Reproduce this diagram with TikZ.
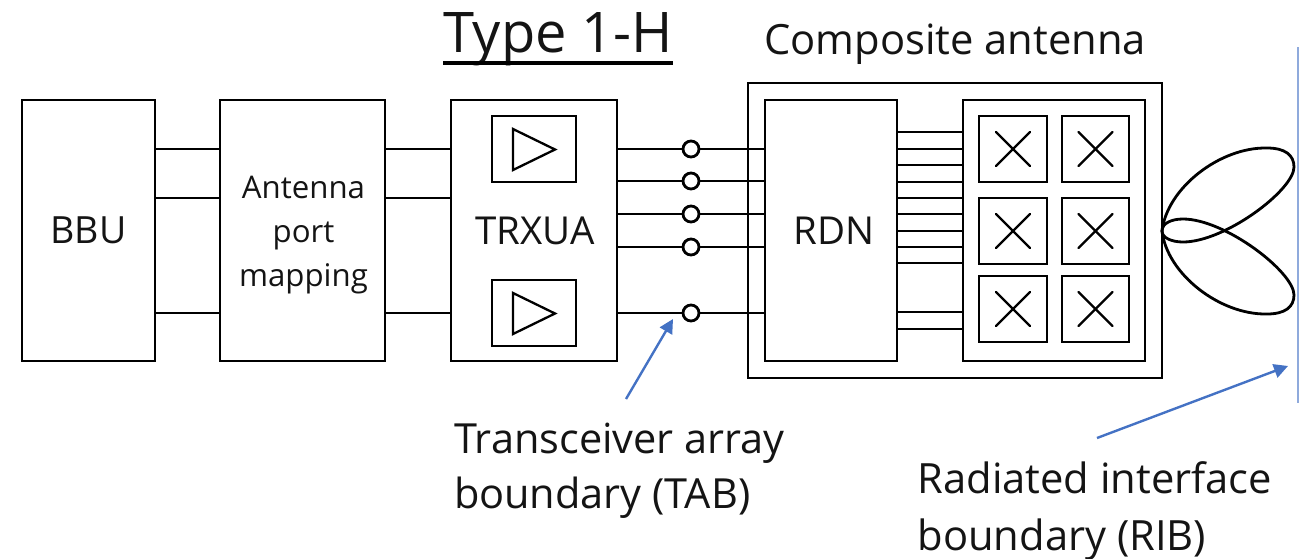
\documentclass[tikz,border=0pt]{standalone}
\usepackage{fontspec}
\setmainfont{Open Sans}
\usetikzlibrary{arrows.meta}
\tikzset{
  x=1pt,y=-1pt,
  box/.style={draw=black,line width=2.8pt,fill=white,minimum width=#1,inner sep=0pt,outer sep=0pt},
  wire/.style={draw=black,line width=2.8pt},
  port/.style={circle,draw=black,line width=2.8pt,fill=white,minimum size=16pt,inner sep=0pt},
  cross/.style={draw=black,line width=2.4pt,line cap=round},
  lobe/.style={draw=black,line width=2.8pt},
  callout/.style={draw=arrowblue,line width=2.4pt,-{Triangle[length=14pt,width=14pt]}},
  label/.style={inner sep=0pt,outer sep=0pt,text=black!92,align=center},
}
\definecolor{arrowblue}{HTML}{4472C4}
\definecolor{ribblue}{HTML}{8FAADC}
\newcommand{\boxat}[6]{\node[box=#4-#2,minimum height=#5-#3,font=\fontsize{38.5}{44}\selectfont,text=black!92,align=center] (#1) at ({(#2+#4)/2},{(#3+#5)/2}) {\raisebox{-5pt}{#6}};}
\newcommand{\elemat}[5]{%
  \node[box=#4-#2,minimum height=#5-#3] (#1) at ({(#2+#4)/2},{(#3+#5)/2}) {};
  \draw[cross] ([shift={(-17pt,17pt)}]#1.center) -- ([shift={(17pt,-17pt)}]#1.center);
  \draw[cross] ([shift={(-17pt,-17pt)}]#1.center) -- ([shift={(17pt,17pt)}]#1.center);}
\begin{document}
\begin{tikzpicture}
\useasboundingbox (0,0) rectangle (1299,558);
\boxat{comp}{748}{83}{1162}{378}{}
\boxat{bbu}{22}{100}{155}{361}{\fontsize{37.5}{44}\selectfont BBU}
\boxat{map}{220}{100}{385}{361}{}
\node[label,font=\fontsize{31.2}{44}\selectfont] (maptxt) at (303.5,235) {Antenna\\port\\mapping};
\boxat{trx}{451}{100}{617}{361}{\hspace{2pt}TRXUA}
\boxat{rdn}{765}{100}{897}{361}{\hspace{6pt}RDN}
\boxat{panel}{963}{100}{1145}{361}{}
\boxat{ampa}{492}{116}{576}{182}{}
\boxat{ampb}{492}{280}{576}{346}{}
\foreach \n/\yy in {a/149,b/198,c/313}{
  \coordinate (y\n) at (0,\yy);
  \draw[wire] (bbu.east |- y\n) -- (map.west |- y\n);
  \draw[wire] (map.east |- y\n) -- (trx.west |- y\n);
}
\foreach \n/\yy in {a/149,b/181,c/214,d/247,e/313}{
  \node[port] (tab\n) at (691,\yy) {};
  \draw[wire] (trx.east |- tab\n) -- (tab\n);
  \draw[wire] (tab\n) -- (rdn.west |- tab\n);
}
\foreach \yy in {132,149,165,182,198,214,231,247,263,312,329}{
  \coordinate (r\yy) at (930,\yy);
  \draw[wire] (rdn.east |- r\yy) -- (panel.west |- r\yy);
}
\elemat{ea}{979}{116}{1047}{182}
\elemat{eb}{1062}{116}{1129}{182}
\elemat{ec}{979}{198}{1047}{264}
\elemat{ed}{1062}{198}{1129}{264}
\elemat{ee}{979}{276}{1047}{342}
\elemat{ef}{1062}{276}{1129}{342}
\draw[line width=2.3pt,line join=miter] (513,129) -- (513,170) -- (555,149.5) -- cycle;
\draw[line width=2.3pt,line join=miter] (513,293) -- (513,334) -- (555,313.5) -- cycle;
\draw[lobe] (1162,231) .. controls (1167,188) and (1220,147) .. (1267,148) .. controls (1285,148) and (1294,155) .. (1294,167) .. controls (1294,190) and (1225,242) .. (1183,242) .. controls (1172,242) and (1162,238) .. (1162,231);
\draw[lobe] (1162,231) .. controls (1167,274) and (1220,315) .. (1267,314) .. controls (1285,314) and (1294,307) .. (1294,295) .. controls (1294,272) and (1225,219) .. (1183,219) .. controls (1172,219) and (1162,223) .. (1162,231);
\coordinate (ribtop) at (1298,47);
\coordinate (ribbot) at (1298,403);
\draw[draw=ribblue,line width=2pt] (ribtop) -- (ribbot);
\coordinate (tabs) at (626,399);
\coordinate (tabt) at (673,319);
\draw[callout] (tabs) -- (tabt);
\coordinate (ribs) at (1097,438);
\coordinate (ribt) at (1288,366);
\draw[callout] (ribs) -- (ribt);
\node[label,font=\fontsize{56}{60}\selectfont] (title) at (558,39) {Type 1-H};
\draw[line width=3.2pt] (title.west |- 0,63) -- (title.east |- 0,63);
\node[label,font=\fontsize{41.7}{46}\selectfont] (comptxt) at (955,44) {Composite antenna};
\node[label,anchor=west,align=left,font=\fontsize{41.5}{55}\selectfont] (tabtxt) at (454,471) {Transceiver array\\boundary (TAB)};
\node[label,anchor=west,align=left,font=\fontsize{41.7}{57}\selectfont] (ribtxt) at (917.5,511) {Radiated interface\\boundary (RIB)};
\end{tikzpicture}
\end{document}
